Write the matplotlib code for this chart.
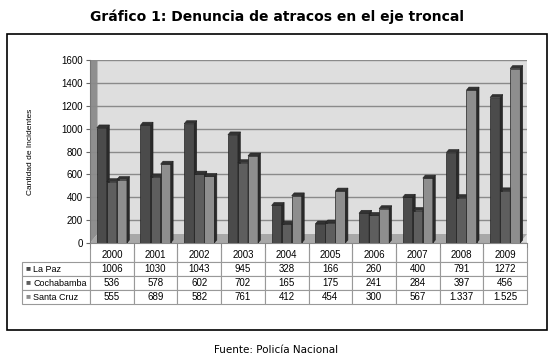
import matplotlib
matplotlib.use('Agg')
import matplotlib.pyplot as plt
from matplotlib.patches import Polygon, Rectangle
import numpy as np

# -----------------------------------
# Data
# -----------------------------------
years = ['2000', '2001', '2002', '2003', '2004', '2005', '2006', '2007', '2008', '2009']
la_paz = [1006, 1030, 1043, 945, 328, 166, 260, 400, 791, 1272]
cochabamba = [536, 578, 602, 702, 165, 175, 241, 284, 397, 456]
santa_cruz = [555, 689, 582, 761, 412, 454, 300, 567, 1337, 1525]
santa_cruz_labels = ['555', '689', '582', '761', '412', '454', '300', '567', '1.337', '1.525']
series_names = ['La Paz', 'Cochabamba', 'Santa Cruz']
colors = ['#4b4b4b', '#5e5e5e', '#8e8e8e']

W, H = 553, 360
fig = plt.figure(figsize=(W / 100, H / 100), dpi=100)
plt.rcParams['font.family'] = ['Liberation Sans', 'DejaVu Sans']

def fx(px):
    return px / W

def fy(py):
    return 1 - py / H

# frame around chart + table
fig.patches.append(Rectangle((fx(7), fy(330)), fx(540), (330 - 34) / H, transform=fig.transFigure,
                             fill=False, edgecolor='black', linewidth=1.2))

fig.text(0.5, fy(17), 'Gráfico 1: Denuncia de atracos en el eje troncal', ha='center', va='center',
         fontsize=10, fontweight='bold', family=['DejaVu Sans'])
fig.text(0.5, fy(350), 'Fuente: Policía Nacional', ha='center', va='center', fontsize=7.5,
         family=['DejaVu Sans'])

# -----------------------------------
# Bar chart
# -----------------------------------
left, right, top, bottom = 90, 527, 60, 243
ax = fig.add_axes([fx(left), fy(bottom), fx(right - left), (bottom - top) / H])
ax.set_facecolor('#dedede')
ax.set_xlim(-0.5, len(years) - 0.5)
ax.set_ylim(0, 1600)
ax.set_yticks(range(0, 1601, 200))
ax.set_xticks(np.arange(len(years) + 1) - 0.5)
ax.set_xticklabels([])
ax.tick_params(axis='y', labelsize=7, length=3, color='#666666', pad=2)
ax.tick_params(axis='x', length=4, color='#888888')
ax.yaxis.grid(True, color='#8a8a8a', linewidth=1)
ax.set_axisbelow(True)
for s in ['top', 'right']:
    ax.spines[s].set_visible(False)
ax.spines['left'].set_color('#777777')
ax.spines['bottom'].set_color('#888888')
ax.set_ylabel('Cantidad de Incidentes', fontsize=6, labelpad=20)

# pseudo 3d depth in data units
px_x = (len(years)) / (right - left)
px_y = 1600 / (bottom - top)
dx, dy = 2.5 * px_x, 3 * px_y

# left wall and floor
ax.add_patch(Polygon([(-0.5, 0), (-0.5 + 3 * dx, 3 * dy), (-0.5 + 3 * dx, 1600), (-0.5, 1600)],
                     closed=True, facecolor='#8f8f8f', edgecolor='none', zorder=0.5))
ax.add_patch(Polygon([(-0.5, 0), (-0.5 + 3 * dx, 3 * dy), (9.5, 3 * dy), (9.5 - 3 * dx, 0)],
                     closed=True, facecolor='#a8a8a8', edgecolor='none', zorder=0.6))

x = np.arange(len(years))
bw = 0.23
offsets = [-bw, 0, bw]
z = 2
for i in range(len(years)):
    for vals, off, col in zip([la_paz, cochabamba, santa_cruz], offsets, colors):
        x0 = x[i] + off - bw / 2
        x1 = x0 + bw
        h = vals[i]
        ax.bar(x0, h, width=bw, align='edge', color=col, edgecolor='#222222', linewidth=0.5, zorder=z)
        ax.add_patch(Polygon([(x1, 0), (x1 + dx, dy), (x1 + dx, h + dy), (x1, h)], closed=True,
                             facecolor='#2a2a2a', edgecolor='#222222', linewidth=0.4, zorder=z))
        ax.add_patch(Polygon([(x0, h), (x0 + dx, h + dy), (x1 + dx, h + dy), (x1, h)], closed=True,
                             facecolor='#333333', edgecolor='#222222', linewidth=0.4, zorder=z))
        z += 1

# -----------------------------------
# Data table
# -----------------------------------
tx0, tx1, ty0, ty1 = 22, 527, 248, 304
axt = fig.add_axes([fx(tx0), fy(ty1), fx(tx1 - tx0), (ty1 - ty0) / H])
axt.axis('off')
cell_text = [[''] + years,
             [''] + [str(v) for v in la_paz],
             [''] + [str(v) for v in cochabamba],
             [''] + santa_cruz_labels]
cat_w = (left - tx0) / (tx1 - tx0)
yr_w = (1 - cat_w) / len(years)
tbl = axt.table(cellText=cell_text, colWidths=[cat_w] + [yr_w] * len(years),
                bbox=[0, 0, 1, 1], cellLoc='center')
tbl.auto_set_font_size(False)
tbl.set_fontsize(7)
for (r, c), cell in tbl.get_celld().items():
    cell.set_edgecolor('#999999')
    cell.set_linewidth(0.8)
    if r == 0:
        cell.visible_edges = 'LRB' if c > 0 else ''
for k, (name, col) in enumerate(zip(series_names, colors)):
    yc = 1 - (k + 1.5) / 4
    axt.text(0.006, yc, '■', color=col, fontsize=6, va='center', ha='left', transform=axt.transAxes)
    axt.text(0.022, yc, name, fontsize=6.5, va='center', ha='left', transform=axt.transAxes)

fig.savefig('out.png', dpi=100)
